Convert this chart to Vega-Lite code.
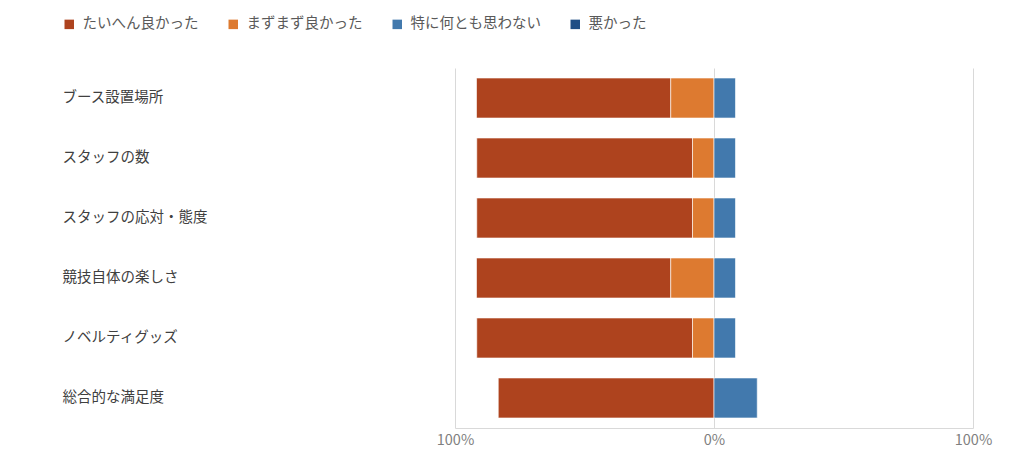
{
  "$schema": "https://vega.github.io/schema/vega-lite/v6.json",
  "width": 518,
  "height": 360,
  "autosize": "none",
  "padding": {"left": 455, "top": 68, "right": 51, "bottom": 48},
  "background": "white",
  "config": {
    "font": "Noto Sans CJK JP",
    "view": {"stroke": null}
  },
  "data": {
    "values": [
      {"item": "ブース設置場所", "answer": "たいへん良かった", "pct": 75.0},
      {"item": "ブース設置場所", "answer": "まずまず良かった", "pct": 16.7},
      {"item": "ブース設置場所", "answer": "特に何とも思わない", "pct": 8.3},
      {"item": "スタッフの数", "answer": "たいへん良かった", "pct": 83.3},
      {"item": "スタッフの数", "answer": "まずまず良かった", "pct": 8.3},
      {"item": "スタッフの数", "answer": "特に何とも思わない", "pct": 8.3},
      {"item": "スタッフの応対・態度", "answer": "たいへん良かった", "pct": 83.3},
      {"item": "スタッフの応対・態度", "answer": "まずまず良かった", "pct": 8.3},
      {"item": "スタッフの応対・態度", "answer": "特に何とも思わない", "pct": 8.3},
      {"item": "競技自体の楽しさ", "answer": "たいへん良かった", "pct": 75.0},
      {"item": "競技自体の楽しさ", "answer": "まずまず良かった", "pct": 16.7},
      {"item": "競技自体の楽しさ", "answer": "特に何とも思わない", "pct": 8.3},
      {"item": "ノベルティグッズ", "answer": "たいへん良かった", "pct": 83.3},
      {"item": "ノベルティグッズ", "answer": "まずまず良かった", "pct": 8.3},
      {"item": "ノベルティグッズ", "answer": "特に何とも思わない", "pct": 8.3},
      {"item": "総合的な満足度", "answer": "たいへん良かった", "pct": 83.3},
      {"item": "総合的な満足度", "answer": "特に何とも思わない", "pct": 16.7}
    ]
  },
  "transform": [
    {"calculate": "indexof(['まずまず良かった','たいへん良かった','特に何とも思わない','悪かった'], datum.answer)", "as": "ord"},
    {"calculate": "datum.ord < 2 ? -datum.pct : datum.pct", "as": "signed"}
  ],
  "mark": {"type": "bar", "stroke": "white", "strokeWidth": 0.6},
  "encoding": {
    "y": {
      "field": "item",
      "type": "nominal",
      "sort": ["ブース設置場所", "スタッフの数", "スタッフの応対・態度", "競技自体の楽しさ", "ノベルティグッズ", "総合的な満足度"],
      "scale": {"paddingInner": 0.333, "paddingOuter": 0.167},
      "axis": {
        "title": null,
        "domain": false,
        "ticks": false,
        "labelAlign": "left",
        "labelPadding": 393,
        "labelLimit": 300,
        "labelFontSize": 14.5,
        "labelColor": "#404040"
      }
    },
    "x": {
      "field": "signed",
      "type": "quantitative",
      "stack": "zero",
      "scale": {"domain": [-100, 100], "nice": false},
      "axis": {
        "title": null,
        "values": [-100, 0, 100],
        "labelExpr": "abs(datum.value) + '%'",
        "ticks": false,
        "grid": true,
        "gridColor": "#d9d9d9",
        "domainColor": "#d9d9d9",
        "labelFontSize": 14.5,
        "labelColor": "#7f7f7f",
        "labelPadding": 5,
        "labelFlush": false
      }
    },
    "order": {"field": "ord", "type": "quantitative"},
    "color": {
      "field": "answer",
      "type": "nominal",
      "scale": {
        "domain": ["たいへん良かった", "まずまず良かった", "特に何とも思わない", "悪かった"],
        "range": ["#ae431e", "#dd7a30", "#4279ad", "#1f4e85"]
      },
      "legend": {
        "title": null,
        "orient": "none",
        "direction": "horizontal",
        "legendX": -393,
        "legendY": -51,
        "columns": 4,
        "columnPadding": 27,
        "symbolType": "square",
        "symbolSize": 90,
        "symbolStrokeWidth": 0,
        "labelOffset": 6,
        "labelFontSize": 14.5,
        "labelColor": "#595959",
        "padding": 0
      }
    }
  }
}
